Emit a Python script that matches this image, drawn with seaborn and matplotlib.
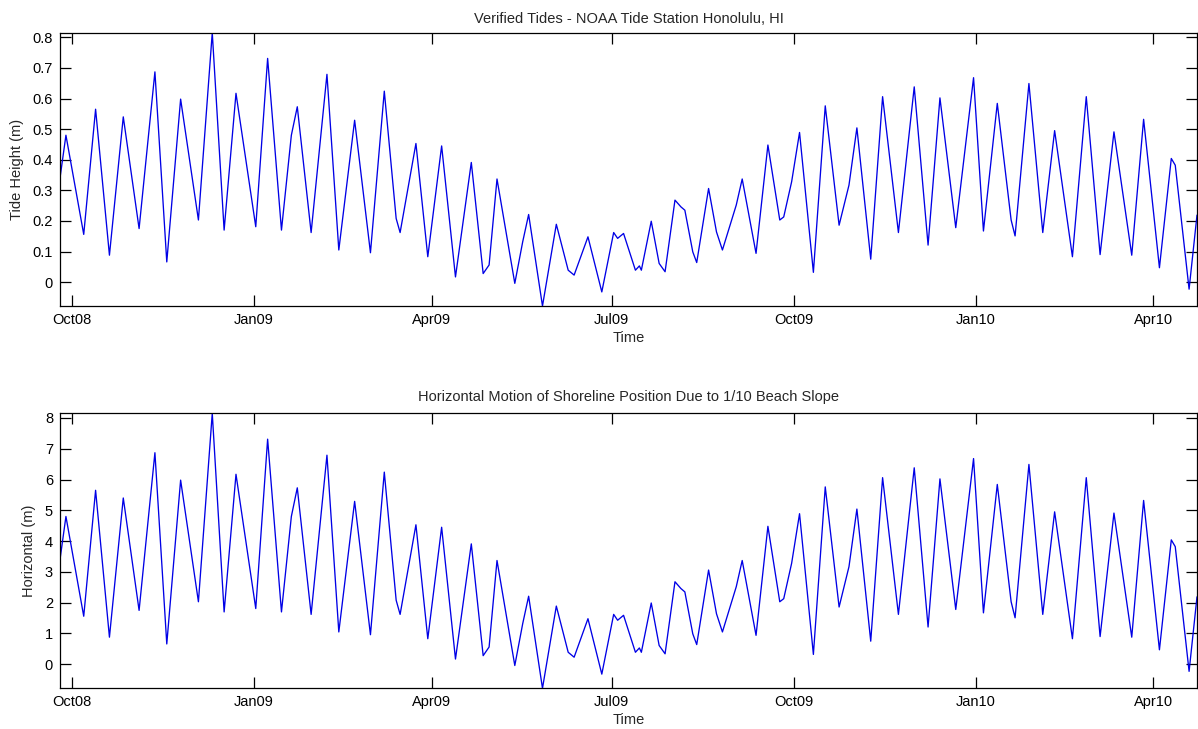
import matplotlib
matplotlib.use("Agg")
import matplotlib.pyplot as plt
import matplotlib.dates as mdates
import numpy as np
import pandas as pd
import seaborn as sns

# Verified tide heights (m)
dates = [
    "2008-09-25", "2008-09-28", "2008-10-07", "2008-10-13", "2008-10-20", "2008-10-27",
    "2008-11-04", "2008-11-12", "2008-11-18", "2008-11-25", "2008-12-04", "2008-12-11",
    "2008-12-17", "2008-12-23", "2009-01-02", "2009-01-08", "2009-01-15", "2009-01-20",
    "2009-01-23", "2009-01-30", "2009-02-07", "2009-02-13", "2009-02-21", "2009-03-01",
    "2009-03-08", "2009-03-14", "2009-03-16", "2009-03-24", "2009-03-30", "2009-04-06",
    "2009-04-13", "2009-04-21", "2009-04-27", "2009-04-30", "2009-05-04", "2009-05-13",
    "2009-05-17", "2009-05-20", "2009-05-27", "2009-06-03", "2009-06-09", "2009-06-12",
    "2009-06-19", "2009-06-26", "2009-07-02", "2009-07-04", "2009-07-07", "2009-07-13",
    "2009-07-15", "2009-07-16", "2009-07-21", "2009-07-25", "2009-07-28", "2009-08-02",
    "2009-08-05", "2009-08-07", "2009-08-11", "2009-08-13", "2009-08-19", "2009-08-23",
    "2009-08-26", "2009-09-02", "2009-09-05", "2009-09-12", "2009-09-18", "2009-09-24",
    "2009-09-26", "2009-09-30", "2009-10-04", "2009-10-11", "2009-10-17", "2009-10-24",
    "2009-10-29", "2009-11-02", "2009-11-09", "2009-11-15", "2009-11-23", "2009-12-01",
    "2009-12-08", "2009-12-14", "2009-12-22", "2009-12-31", "2010-01-05", "2010-01-12",
    "2010-01-19", "2010-01-21", "2010-01-28", "2010-02-04", "2010-02-10", "2010-02-19",
    "2010-02-26", "2010-03-05", "2010-03-12", "2010-03-21", "2010-03-27", "2010-04-04",
    "2010-04-10", "2010-04-12", "2010-04-19", "2010-04-23",
]
tide_height = [
    0.34, 0.48, 0.156, 0.565, 0.088, 0.54,
    0.175, 0.687, 0.066, 0.598, 0.203, 0.815,
    0.17, 0.617, 0.181, 0.731, 0.17, 0.48,
    0.573, 0.162, 0.679, 0.105, 0.529, 0.096,
    0.624, 0.208, 0.162, 0.453, 0.083, 0.445,
    0.017, 0.391, 0.028, 0.056, 0.337, -0.004,
    0.132, 0.221, -0.078, 0.189, 0.039, 0.023,
    0.148, -0.032, 0.162, 0.143, 0.159, 0.039,
    0.053, 0.039, 0.199, 0.061, 0.034, 0.268,
    0.246, 0.235, 0.099, 0.064, 0.306, 0.164,
    0.105, 0.252, 0.337, 0.094, 0.448, 0.203,
    0.213, 0.328, 0.489, 0.032, 0.576, 0.186,
    0.317, 0.504, 0.075, 0.606, 0.162, 0.638,
    0.121, 0.602, 0.178, 0.668, 0.167, 0.584,
    0.203, 0.151, 0.649, 0.162, 0.495, 0.083,
    0.606, 0.09, 0.491, 0.088, 0.532, 0.047,
    0.404, 0.382, -0.023, 0.219,
]
beach_slope = 0.1  # 1/10 beach slope

titles = ["Verified Tides - NOAA Tide Station Honolulu, HI",
          "Horizontal Motion of Shoreline Position Due to 1/10 Beach Slope"]
ylabels = ["Tide Height (m)", "Horizontal (m)"]
yticks_top = [0, 0.1, 0.2, 0.3, 0.4, 0.5, 0.6, 0.7, 0.8]
ytick_labels_top = ["0", "0.1", "0.2", "0.3", "0.4", "0.5", "0.6", "0.7", "0.8"]
yticks_bottom = [0, 1, 2, 3, 4, 5, 6, 7, 8]

df = pd.DataFrame({"Time": pd.to_datetime(dates), "Tide": tide_height})
df["Horizontal"] = df["Tide"] / beach_slope

sns.set_style("ticks")
plt.rcParams["font.family"] = ["Liberation Sans", "DejaVu Sans"]
plt.rcParams["font.size"] = 10.5

fig = plt.figure(figsize=(11.98, 7.29), dpi=100)
ax1 = fig.add_axes([60 / 1198, 1 - 306 / 729, 1137 / 1198, (306 - 32.7) / 729])
ax2 = fig.add_axes([60 / 1198, 1 - 688.3 / 729, 1137 / 1198, (688.3 - 413.3) / 729])

for ax, col, title, ylabel, tpad in zip([ax1, ax2], ["Tide", "Horizontal"], titles,
                                         ylabels, [7, 9]):
    sns.lineplot(data=df, x="Time", y=col, ax=ax, color="#0000e6", linewidth=0.95)
    ax.set_xlim(df["Time"].min(), df["Time"].max())
    ax.set_ylim(df[col].min(), df[col].max())
    ax.xaxis.set_major_locator(mdates.MonthLocator(bymonth=[1, 4, 7, 10]))
    ax.xaxis.set_major_formatter(mdates.DateFormatter("%b%y"))
    ax.set_title(title, fontsize=10.5, pad=tpad)
    ax.set_xlabel("Time", fontsize=10.5, labelpad=3)
    ax.set_ylabel(ylabel, fontsize=10.5, labelpad=6)
    ax.tick_params(direction="in", length=8, width=0.9, top=True, right=True,
                   labelsize=10.5, colors="black", pad=5)
    for sp in ax.spines.values():
        sp.set_visible(True)
        sp.set_linewidth(0.9)
        sp.set_color("black")

ax1.set_yticks(yticks_top)
ax1.set_yticklabels(ytick_labels_top)
ax2.set_yticks(yticks_bottom)

fig.savefig("out.png", dpi=100, facecolor="white")
